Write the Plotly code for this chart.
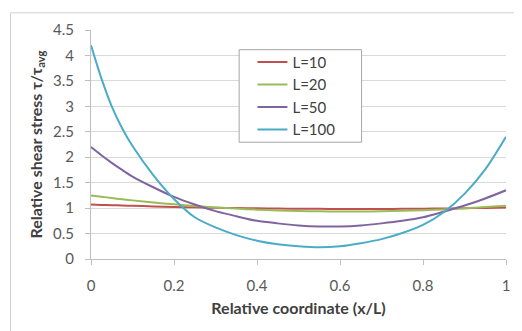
import plotly.graph_objects as go

x_rel = [0.00, 0.025, 0.05, 0.075, 0.10, 0.15, 0.20, 0.25, 0.30, 0.35, 0.40, 0.45, 0.50,
         0.55, 0.60, 0.65, 0.70, 0.75, 0.80, 0.85, 0.90, 0.95, 1.00]

L10 = [1.07, 1.063, 1.057, 1.051, 1.045, 1.034, 1.024, 1.015, 1.008, 1.001, 0.995, 0.991, 0.987,
       0.985, 0.984, 0.983, 0.984, 0.986, 0.989, 0.992, 0.997, 1.003, 1.01]
L20 = [1.25, 1.224, 1.198, 1.175, 1.152, 1.11, 1.074, 1.041, 1.013, 0.99, 0.97, 0.955, 0.943,
       0.936, 0.933, 0.933, 0.938, 0.946, 0.959, 0.975, 0.996, 1.02, 1.045]
L50 = [2.20, 2.04, 1.89, 1.75, 1.62, 1.41, 1.22, 1.07, 0.94, 0.84, 0.75, 0.70, 0.66,
       0.64, 0.64, 0.66, 0.70, 0.75, 0.82, 0.93, 1.05, 1.19, 1.35]
L100 = [4.20, 3.55, 3.00, 2.57, 2.22, 1.65, 1.18, 0.82, 0.62, 0.47, 0.36, 0.29, 0.25,
        0.23, 0.25, 0.31, 0.39, 0.51, 0.67, 0.92, 1.28, 1.76, 2.40]

series_names = ["L=10", "L=20", "L=50", "L=100"]
series_vals = [L10, L20, L50, L100]
series_colors = ["#C0504D", "#9BBB59", "#8064A2", "#4BACC6"]

x_ticks = [0, 0.2, 0.4, 0.6, 0.8, 1]
y_ticks = [0, 0.5, 1, 1.5, 2, 2.5, 3, 3.5, 4, 4.5]

FONT = "Lato, 'Liberation Sans', sans-serif"

fig = go.Figure()
for name, vals, col in zip(series_names, series_vals, series_colors):
    fig.add_trace(go.Scatter(x=x_rel, y=vals, name=name, mode="lines",
                             line=dict(color=col, width=2, shape="spline", smoothing=0.8)))

fig.update_layout(
    width=514, height=323,
    margin=dict(l=83, r=14, t=21, b=72),
    paper_bgcolor="white", plot_bgcolor="white",
    font=dict(family=FONT, size=15, color="#595959"),
    showlegend=True,
    legend=dict(x=0.389, y=0.931, xanchor="left", yanchor="top",
                bgcolor="rgba(0,0,0,0)", borderwidth=0,
                font=dict(family=FONT, size=15, color="#404040"),
                tracegroupgap=0, itemwidth=30),
    shapes=[
        dict(type="rect", xref="paper", yref="paper", x0=0.357, x1=0.652, y0=0.51, y1=0.914,
             fillcolor="white", line=dict(color="#a6a6a6", width=1), layer="above"),
        dict(type="line", xref="paper", yref="paper", x0=-0.194, x1=1.2, y0=1.075, y1=1.075,
             line=dict(color="#d0d0d0", width=1)),
        dict(type="line", xref="paper", yref="paper", x0=-0.194, x1=-0.194, y0=-0.5, y1=1.075,
             line=dict(color="#d0d0d0", width=1)),
    ],
)

fig.update_xaxes(
    range=[0, 1], tickvals=x_ticks, ticktext=[str(v) for v in x_ticks],
    showgrid=False, zeroline=False,
    showline=True, linecolor="#bfbfbf", linewidth=1,
    ticks="outside", ticklen=5, tickcolor="#bfbfbf", ticklabelstandoff=8,
    tickfont=dict(size=15, color="#595959"),
    title=dict(text="<b>Relative coordinate (x/L)</b>", font=dict(size=16, color="#404040"), standoff=9),
)
fig.update_yaxes(
    range=[0, 4.5], tickvals=y_ticks, ticktext=[f"{v:g}" for v in y_ticks],
    showgrid=True, gridcolor="#d9d9d9", gridwidth=1, zeroline=False,
    showline=True, linecolor="#bfbfbf", linewidth=1,
    ticks="outside", ticklen=5, tickcolor="#bfbfbf", ticklabelstandoff=8,
    tickfont=dict(size=15, color="#595959"),
    title=dict(text="<b>Relative shear stress τ/τ<sub>avg</sub></b>", font=dict(size=16, color="#404040"), standoff=6),
)

fig.write_html("out.html")
